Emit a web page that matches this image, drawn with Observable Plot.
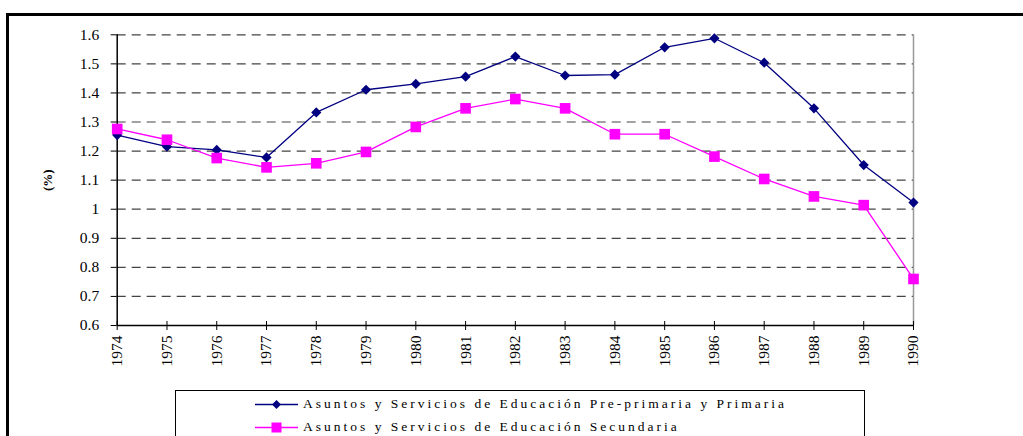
<!DOCTYPE html>
<html>
<head>
<meta charset="utf-8">
<script src="https://cdn.jsdelivr.net/npm/d3@7"></script>
<script src="https://cdn.jsdelivr.net/npm/@observablehq/plot@0.6"></script>
<style>
  html, body { margin: 0; padding: 0; background: #fff; overflow: hidden; width: 1023px; height: 436px; }
  #wrap { position: relative; width: 1023px; height: 436px; }
  #frame { position: absolute; left: 6px; top: 13px; width: 1100px; height: 500px; border: 3px solid #000; box-sizing: border-box; }
  #chart { position: absolute; left: 0; top: 0; }
  #chart svg text { font-family: "Liberation Serif", "Times New Roman", serif; }
  #chart svg g[aria-label$="tick label"] text { font-size: 15.5px; }
  #chart svg g[aria-label="y-axis label"] text { font-size: 13px; font-weight: bold; }
  #legend { position: absolute; left: 175px; top: 390px; width: 690px; height: 80px; border: 1px solid #000; box-sizing: border-box; background: #fff;
            font-family: "Liberation Serif", "Times New Roman", serif; font-size: 13.5px; letter-spacing: 3px; color: #000; }
  .item { position: absolute; left: 79px; height: 16px; display: flex; align-items: center; white-space: nowrap; }
  .item svg { margin-right: 5px; }
</style>
</head>
<body>
<div id="wrap">
  <div id="frame"></div>
  <div id="chart"></div>
  <div id="legend"></div>
</div>
<script>
// ---- data ----
const years = [1974,1975,1976,1977,1978,1979,1980,1981,1982,1983,1984,1985,1986,1987,1988,1989,1990];
const primaria = [1.255,1.215,1.204,1.178,1.333,1.411,1.431,1.456,1.525,1.460,1.463,1.557,1.588,1.504,1.347,1.152,1.023];
const secundaria = [1.276,1.239,1.176,1.144,1.158,1.197,1.283,1.347,1.379,1.347,1.258,1.258,1.181,1.104,1.044,1.014,0.760];
const seriesNames = ["Asuntos y Servicios de Educación Pre-primaria y Primaria", "Asuntos y Servicios de Educación Secundaria"];
const seriesColors = ["#000080", "#FF00FF"];
const yTicks = [0.6,0.7,0.8,0.9,1.0,1.1,1.2,1.3,1.4,1.5,1.6];
const yTickLabels = ["0.6","0.7","0.8","0.9","1","1.1","1.2","1.3","1.4","1.5","1.6"];
const yTitle = "(%)";

const rows = [];
years.forEach((yr, i) => {
  rows.push({year: yr, value: primaria[i], series: seriesNames[0]});
  rows.push({year: yr, value: secundaria[i], series: seriesNames[1]});
});
const rowsA = rows.filter(d => d.series === seriesNames[0]);
const rowsB = rows.filter(d => d.series === seriesNames[1]);

const plot = Plot.plot({
  width: 1023,
  height: 436,
  marginLeft: 116.7,
  marginRight: 110,
  marginTop: 34.3,
  marginBottom: 111,
  style: {background: "transparent", fontSize: "15px", color: "#000"},
  x: {domain: [1974, 1990]},
  y: {domain: [0.6, 1.6]},
  marks: [
    Plot.ruleY(yTicks.slice(1), {stroke: "#444", strokeWidth: 1.2, strokeDasharray: "9,6"}),
    Plot.ruleX([1990], {stroke: "#999", strokeWidth: 1.5}),
    Plot.ruleX(years, {y1: 0.6, y2: 0.6, insetTop: -4, stroke: "#000"}),
    Plot.axisX({ticks: years, tickFormat: d => String(d), tickRotate: -90, tickSize: 5, tickPadding: 5, label: null}),
    Plot.axisY({ticks: yTicks, tickFormat: (d, i) => yTickLabels[yTicks.indexOf(d)], tickSize: 6, tickPadding: 12, label: yTitle, labelAnchor: "center", labelArrow: "none", labelOffset: 74}),
    Plot.ruleX([1974], {stroke: "#000", strokeWidth: 1.5}),
    Plot.ruleY([0.6], {stroke: "#000", strokeWidth: 1.5}),
    Plot.line(rowsA, {x: "year", y: "value", stroke: seriesColors[0], strokeWidth: 1.3}),
    Plot.line(rowsB, {x: "year", y: "value", stroke: seriesColors[1], strokeWidth: 1.3}),
    Plot.dot(rowsA, {x: "year", y: "value", symbol: "diamond2", r: 4.6, fill: seriesColors[0], stroke: "none"}),
    Plot.dot(rowsB, {x: "year", y: "value", symbol: "square", r: 6, fill: seriesColors[1], stroke: "none"})
  ]
});
document.getElementById("chart").appendChild(plot);

// legend
const legend = document.getElementById("legend");
const markers = [
  '<polygon points="21.5,3 26,7.5 21.5,12 17,7.5" fill="#000080"/>',
  '<rect x="16.5" y="2.5" width="10" height="10" fill="#FF00FF"/>'
];
seriesNames.forEach((name, i) => {
  const div = document.createElement("div");
  div.className = "item";
  div.style.top = (5 + i * 23) + "px";
  div.innerHTML = `<svg width="43" height="15"><line x1="0" y1="7.5" x2="43" y2="7.5" stroke="${seriesColors[i]}" stroke-width="1.3"/>${markers[i]}</svg><span>${name}</span>`;
  legend.appendChild(div);
});
</script>
</body>
</html>
